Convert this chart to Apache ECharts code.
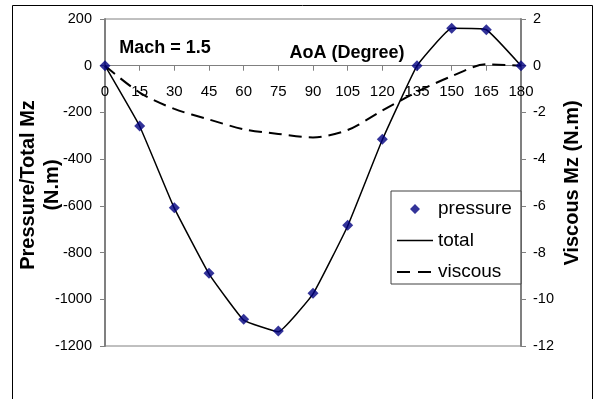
<!DOCTYPE html>
<html>
<head>
<meta charset="utf-8">
<script src="https://cdn.jsdelivr.net/npm/echarts@6/dist/echarts.min.js"></script>
<style>
  html, body { margin: 0; padding: 0; background: #fff; }
  #chart { width: 595px; height: 399px; }
</style>
</head>
<body>
<div id="chart"></div>
<script>
// Angle of attack (degrees)
var aoa = [0, 15, 30, 45, 60, 75, 90, 105, 120, 135, 150, 165, 180];
// Pitching moment components
var pressureMz = [0, -258, -608, -889, -1086, -1136, -974, -683, -315, 0, 160, 154, 0];
var totalMz = [0, -259, -610, -891, -1089, -1139, -977, -686, -317, -1, 160, 154, 0];
var viscousMz = [0, -1.15, -1.85, -2.3, -2.72, -2.92, -3.07, -2.75, -1.92, -1.12, -0.45, 0.06, 0];

// Left axis range (N.m)
var Y_MIN = -1200, Y_MAX = 200;

function pairs(xs, ys) {
  return xs.map(function (x, i) { return [x, ys[i]]; });
}

var FONT = 'Arial, "Liberation Sans", sans-serif';
var AXIS_GREY = '#808080';

var GRID_TOP = 19, GRID_BOTTOM = 53, CHART_H = 399;
var plotH = CHART_H - GRID_TOP - GRID_BOTTOM;
// Lift the AoA axis from the bottom edge up to the zero-moment line.
var zeroLift = -plotH * (0 - Y_MIN) / (Y_MAX - Y_MIN);

// Legend icons: a small centred diamond, a solid stroke and a dashed stroke,
// each padded with invisible corner points so the icon box stays 36 x 10.
var BOX = 'M0,0 L0.001,0 L0,0.001 Z M36,10 L35.999,10 L36,9.999 Z ';
var ICON_DIAMOND = 'path://' + BOX + 'M18,0 L23,5 L18,10 L13,5 Z';
var ICON_SOLID = 'path://' + BOX + 'M0,4.25 L36,4.25 L36,5.75 L0,5.75 Z';
var ICON_DASHED = 'path://' + BOX + 'M0,4 L13,4 L13,6 L0,6 Z M21,4 L34,4 L34,6 L21,6 Z';

var chart = echarts.init(document.getElementById('chart'), null, { renderer: 'canvas' });

function plainLabel(v) { return String(v); }

chart.setOption({
  animation: false,
  backgroundColor: '#fff',
  textStyle: { fontFamily: FONT, color: '#000' },
  grid: {
    left: 105, right: 74, top: GRID_TOP, bottom: GRID_BOTTOM,
    show: true, borderColor: AXIS_GREY, borderWidth: 1, backgroundColor: 'transparent'
  },
  xAxis: {
    type: 'value', min: 0, max: 180, interval: 15,
    position: 'bottom', offset: zeroLift,
    axisLine: { onZero: false, lineStyle: { color: AXIS_GREY, width: 1 } },
    axisTick: { show: true, length: 5, lineStyle: { color: AXIS_GREY } },
    axisLabel: { color: '#000', fontSize: 15, fontFamily: FONT, margin: 19, formatter: plainLabel },
    splitLine: { show: false }
  },
  yAxis: [{
    type: 'value', position: 'left', min: Y_MIN, max: Y_MAX, interval: 200,
    axisLine: { show: true, onZero: false, lineStyle: { color: AXIS_GREY, width: 2 } },
    axisTick: { show: true, length: 5, lineStyle: { color: AXIS_GREY } },
    axisLabel: { color: '#000', fontSize: 14.5, fontFamily: FONT, margin: 13, formatter: plainLabel },
    splitLine: { show: false }
  }, {
    type: 'value', position: 'right', min: -12, max: 2, interval: 2,
    axisLine: { show: true, onZero: false, lineStyle: { color: AXIS_GREY, width: 2 } },
    axisTick: { show: true, length: 5, lineStyle: { color: AXIS_GREY } },
    axisLabel: { color: '#000', fontSize: 14.5, fontFamily: FONT, margin: 12, formatter: plainLabel },
    splitLine: { show: false }
  }],
  legend: {
    orient: 'vertical', left: 391, top: 191,
    padding: [8, 9, 2, 6], itemGap: 11.5,
    itemWidth: 36, itemHeight: 10,
    backgroundColor: '#fff', borderColor: '#404040', borderWidth: 1, borderRadius: 0,
    textStyle: { fontSize: 19, lineHeight: 20, fontFamily: FONT, color: '#000' },
    data: [
      { name: 'pressure', icon: ICON_DIAMOND },
      { name: 'total', icon: ICON_SOLID },
      { name: 'viscous', icon: ICON_DASHED }
    ]
  },
  graphic: [{
    type: 'rect', silent: true, z: 100,
    shape: { x: 12.5, y: 5.5, width: 580, height: 400 },
    style: { fill: null, stroke: '#000', lineWidth: 1 }
  }, {
    type: 'text', x: 165, y: 48,
    style: { text: 'Mach = 1.5', font: 'bold 18px ' + FONT, fill: '#000', textAlign: 'center', textVerticalAlign: 'middle' }
  }, {
    type: 'text', x: 347, y: 53,
    style: { text: 'AoA (Degree)', font: 'bold 18px ' + FONT, fill: '#000', textAlign: 'center', textVerticalAlign: 'middle' }
  }, {
    type: 'text', x: 40, y: 185, rotation: Math.PI / 2,
    style: { text: 'Pressure/Total Mz\n(N.m)', font: 'bold 20px ' + FONT, lineHeight: 24, fill: '#000', textAlign: 'center', textVerticalAlign: 'middle' }
  }, {
    type: 'text', x: 572, y: 183, rotation: Math.PI / 2,
    style: { text: 'Viscous Mz (N.m)', font: 'bold 20px ' + FONT, fill: '#000', textAlign: 'center', textVerticalAlign: 'middle' }
  }],
  series: [{
    name: 'total', type: 'line', yAxisIndex: 0, z: 3,
    data: pairs(aoa, totalMz),
    symbol: 'none', smooth: 0.1,
    lineStyle: { color: '#000', width: 1.5 },
    itemStyle: { color: '#000' }
  }, {
    name: 'viscous', type: 'line', yAxisIndex: 1, z: 2,
    data: pairs(aoa, viscousMz),
    symbol: 'none', smooth: 0.3,
    lineStyle: { color: '#000', width: 2, type: [13, 7] },
    itemStyle: { color: '#000' }
  }, {
    name: 'pressure', type: 'scatter', yAxisIndex: 0, z: 4,
    data: pairs(aoa, pressureMz),
    symbol: 'diamond', symbolSize: 11,
    itemStyle: { color: '#000080' }
  }]
});
</script>
</body>
</html>
